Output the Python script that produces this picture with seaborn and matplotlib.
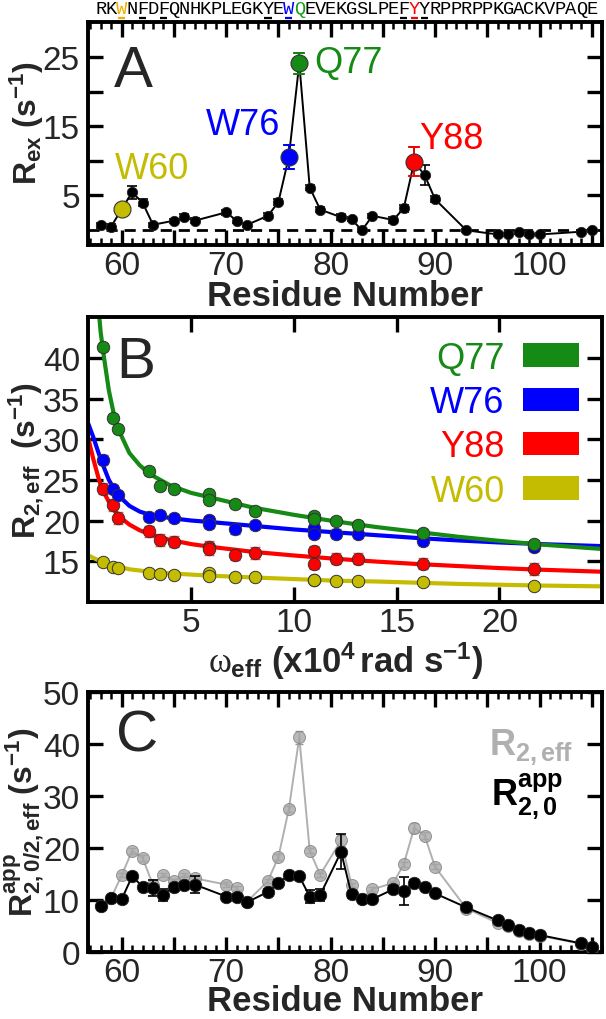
import numpy as np
import pandas as pd
import seaborn as sns
import matplotlib
matplotlib.use("Agg")
import matplotlib.pyplot as plt
import matplotlib.transforms as mtransforms
from matplotlib.ticker import MultipleLocator, FuncFormatter, FixedLocator
from matplotlib.patches import Patch

# ---------------- data ----------------
sequence = "RKWNFDFQNHKPLEGKYEWQEVEKGSLPEFYYRPPRPPKGACKVPAQE"
seq_start = 58
seq_colors = {60: '#f0b000', 76: '#0000ff', 77: '#13a013', 88: '#ff0000'}
underline_res = [60, 62, 64, 74, 76, 87, 88, 89]
underline_cols = ['#f0b000', 'black', 'black', 'black', '#0000ff', 'black', '#ff0000', 'black']

# Panel A: Rex per residue
res_A = [58, 59, 60, 61, 62, 63, 65, 66, 67, 70, 71, 72, 74, 75, 76, 77, 78, 79, 81, 82,
         83, 84, 86, 87, 88, 89, 90, 93, 96, 97, 98, 99, 100, 104, 105]
rex = [0.6, 0.45, 3.0, 5.4, 3.9, 0.7, 1.3, 1.8, 1.3, 2.5, 1.3, 0.7, 2.0, 4.0, 10.5, 24.1,
       6.1, 2.9, 1.8, 1.5, -0.1, 2.0, 1.4, 3.1, 9.8, 7.9, 4.4, -0.1, -0.7, -0.7, -0.4,
       -0.7, -0.7, -0.3, -0.1]
rex_err = [0.3, 0.3, 0.4, 0.9, 0.5, 0.3, 0.3, 0.4, 0.4, 0.4, 0.4, 0.3, 0.4, 0.5, 1.7, 1.5,
           0.4, 0.4, 0.4, 0.3, 0.3, 0.3, 0.4, 0.5, 2.1, 1.4, 0.4, 0.2, 0.2, 0.2, 0.2,
           0.2, 0.2, 0.2, 0.2]

hl_names = ['W60', 'W76', 'Q77', 'Y88']
hl_res = [60, 76, 77, 88]
hl_colors = ['#c4bc00', '#0000ff', '#158a15', '#ff0000']
hl_label_x = [62.9, 71.6, 78.4, 88.5]
hl_label_y = [8.9, 15.2, 24.2, 13.15]
hl_label_ha = ['center', 'center', 'left', 'left']

# Panel B: R2,eff vs omega_eff
omega = [0.7, 1.22, 1.46, 2.95, 3.5, 4.15, 5.85, 5.85, 7.15, 8.1, 11.0, 11.0, 12.05, 13.1, 16.3, 21.7]
r2_Q77 = [41.3, 32.65, 31.3, 26.1, 24.3, 23.9, 23.3, 22.5, 22.0, 21.2, 20.5, 20.2, 19.9, 19.4, 18.5, 17.1]
r2_W76 = [27.5, 23.9, 23.1, 20.4, 20.7, 20.3, 20.1, 19.6, 18.9, 19.5, 19.1, 18.3, 18.4, 18.4, 17.5, 16.8]
r2_Y88 = [23.9, 21.9, 20.3, 18.65, 17.6, 17.4, 16.8, 16.5, 15.8, 16.0, 16.2, 14.7, 15.3, 15.3, 14.7, 14.05]
r2_W60 = [14.9, 14.3, 14.2, 13.6, 13.4, 13.35, 13.6, 13.2, 13.1, 13.1, 12.7, 12.7, 12.6, 12.6, 12.4, 11.9]
err_Q77 = [0.5] * 16
err_W76 = [0.5] * 16
err_Y88 = [0.7] * 16
err_W60 = [0.3] * 16

omega_fit = [0, 0.25, 0.5, 0.6, 0.75, 1.0, 1.25, 1.5, 2.0, 2.5, 3.0, 4.0, 5.0, 6.0, 8.0,
             10.0, 12.0, 14.0, 16.0, 18.0, 20.0, 22.0, 25.0]
fit_Q77 = [np.nan, np.nan, 46.0, 43.2, 40.3, 36.0, 33.0, 31.0, 28.3, 26.8, 25.7, 24.3, 23.4, 22.8,
           21.6, 20.7, 19.9, 19.2, 18.6, 18.0, 17.5, 17.05, 16.5]
fit_W76 = [31.9, 30.2, 28.3, 27.6, 26.6, 25.0, 23.9, 23.0, 21.8, 21.1, 20.7, 20.3, 20.0, 19.8,
           19.35, 18.9, 18.55, 18.2, 17.85, 17.55, 17.3, 17.1, 16.85]
fit_Y88 = [30.1, 27.5, 25.2, 24.4, 23.5, 22.3, 21.3, 20.5, 19.5, 18.8, 18.3, 17.6, 17.1, 16.75,
           16.15, 15.7, 15.3, 14.95, 14.65, 14.4, 14.15, 13.95, 13.7]
fit_W60 = [15.7, 15.4, 15.1, 15.0, 14.85, 14.6, 14.45, 14.3, 14.0, 13.85, 13.7, 13.5, 13.35, 13.2,
           13.0, 12.8, 12.6, 12.5, 12.35, 12.2, 12.1, 12.0, 11.9]

# Panel C: R2,0app and R2,eff per residue
res_C = [58, 59, 60, 61, 62, 63, 64, 65, 66, 67, 70, 71, 72, 74, 75, 76, 77, 78, 79, 81, 82,
         83, 84, 86, 87, 88, 89, 90, 93, 96, 97, 98, 99, 100, 104, 105]
r20_app = [8.7, 10.3, 10.1, 14.5, 12.5, 12.2, 10.9, 12.5, 12.8, 12.9, 10.6, 10.6, 9.5, 11.5,
           13.2, 14.7, 14.5, 10.6, 10.9, 19.2, 11.0, 10.1, 10.1, 12.0, 11.7, 13.2, 12.5, 11.2,
           8.5, 6.0, 5.2, 4.1, 3.5, 3.2, 1.6, 0.9]
r20_err = [0.4, 0.4, 0.4, 0.5, 0.5, 1.5, 1.2, 0.5, 0.5, 1.7, 0.5, 0.5, 0.4, 0.5, 0.5, 0.7,
           0.5, 1.3, 1.2, 3.4, 0.6, 0.4, 0.4, 0.6, 2.7, 0.5, 0.5, 0.4, 0.4, 0.3, 0.3, 0.3,
           0.3, 0.3, 0.3, 0.3]
r2eff = [8.8, 10.4, 14.7, 19.4, 18.0, 12.8, 14.8, 13.6, 14.7, 14.1, 12.9, 12.2, 9.6, 13.6,
         18.2, 27.4, 41.2, 19.4, 14.8, 21.4, 12.8, 10.2, 12.0, 13.2, 16.8, 23.8, 22.3, 16.3,
         8.3, 5.5, 5.0, 4.0, 3.4, 3.1, 1.5, 0.8]
r2eff_err = [0.3, 0.3, 0.4, 0.6, 0.5, 0.4, 0.4, 0.4, 0.4, 0.4, 0.4, 0.4, 0.3, 0.4, 0.5, 0.6,
             1.2, 0.5, 0.4, 1.0, 0.4, 0.3, 0.4, 0.4, 0.5, 0.9, 0.7, 0.5, 0.3, 0.3, 0.3, 0.3,
             0.3, 0.3, 0.3, 0.3]

# ---------------- style ----------------
sns.set_theme(style="ticks")
plt.rcParams.update({
    'font.family': ['Liberation Sans', 'DejaVu Sans'],
    'mathtext.fontset': 'custom',
    'mathtext.rm': 'Liberation Sans',
    'mathtext.bf': 'Liberation Sans:bold',
    'mathtext.it': 'Liberation Serif',
    'axes.facecolor': 'white',
    'figure.facecolor': 'white',
    'axes.unicode_minus': False,
})

TICK_FS = 24
LABEL_FS = 25
YLABEL_FS = 23

fig = plt.figure(figsize=(6.06, 10.2), dpi=100)
axA = fig.add_axes([0.1457, 0.759, 0.848, 0.218])
axB = fig.add_axes([0.1457, 0.409, 0.848, 0.279])
axC = fig.add_axes([0.1457, 0.066, 0.848, 0.255])


def style(ax):
    for s in ax.spines.values():
        s.set_visible(True)
        s.set_linewidth(2.8)
        s.set_color('black')
    ax.tick_params(which='both', direction='in', top=True, right=True,
                   labelsize=TICK_FS, color='black', pad=6)
    ax.tick_params(axis='x', which='both', pad=4)
    ax.tick_params(which='major', length=11, width=2.4)
    ax.tick_params(which='minor', length=5, width=1.8)
    ax.grid(False)


def residue_axis(ax):
    ax.set_xlim(56.8, 106)
    ax.xaxis.set_major_locator(MultipleLocator(5))
    ax.xaxis.set_minor_locator(MultipleLocator(1))
    ax.xaxis.set_major_formatter(FuncFormatter(lambda v, p: f"{int(round(v))}" if round(v) % 10 == 0 else ""))


# ---------------- Panel A ----------------
style(axA)
residue_axis(axA)
axA.set_ylim(-2.2, 30)
axA.yaxis.set_major_locator(FixedLocator([5, 10, 15, 20, 25]))
axA.yaxis.set_major_formatter(FuncFormatter(lambda v, p: f"{int(v)}" if int(v) in (5, 15, 25) else ""))
axA.axhline(0, color='black', lw=2.0, ls=(0, (4, 2.5)), zorder=1)

dfA = pd.DataFrame({'res': res_A, 'rex': rex, 'err': rex_err})
sns.lineplot(data=dfA, x='res', y='rex', color='black', lw=1.4, ax=axA, sort=False,
             estimator=None, zorder=2)
axA.errorbar(dfA['res'], dfA['rex'], yerr=dfA['err'], fmt='none', ecolor='black',
             elinewidth=1.2, capsize=3.5, capthick=1.2, zorder=3)
dfA_plain = dfA[~dfA['res'].isin(hl_res)]
sns.scatterplot(data=dfA_plain, x='res', y='rex', color='black', s=55, edgecolor='#222222',
                linewidth=0.6, ax=axA, zorder=4, legend=False)
for name, r, c, lx, ly, ha in zip(hl_names, hl_res, hl_colors, hl_label_x, hl_label_y, hl_label_ha):
    row = dfA[dfA['res'] == r]
    axA.errorbar(row['res'], row['rex'], yerr=row['err'], fmt='none', ecolor=c,
                 elinewidth=1.3, capsize=4, capthick=1.3, zorder=5)
    sns.scatterplot(data=row, x='res', y='rex', color=c, s=150, edgecolor='#333333',
                    linewidth=0.8, ax=axA, zorder=6, legend=False)
    axA.text(lx, ly, name, color=c, fontsize=26, ha=ha, va='center', zorder=7)

axA.text(0.05, 0.716, 'A', transform=axA.transAxes, fontsize=42, ha='left', va='baseline')
axA.set_xlabel('Residue Number', fontsize=LABEL_FS, fontweight='bold', labelpad=-2)
axA.set_ylabel(r'$\mathbf{R_{ex}\ (s^{-1})}$', fontsize=YLABEL_FS)
axA.yaxis.set_label_coords(-0.083, 0.55)

# sequence above panel A
trans = mtransforms.blended_transform_factory(axA.transData, axA.transAxes)
for i, ch in enumerate(sequence):
    r = seq_start + i
    axA.text(r, 1.062, ch, transform=trans, ha='center', va='center', fontsize=13.5,
             family='Liberation Mono', color=seq_colors.get(r, 'black'), clip_on=False)
for r, c in zip(underline_res, underline_cols):
    axA.plot([r - 0.35, r + 0.35], [1.022, 1.022], transform=trans, color=c, lw=1.6,
             clip_on=False, solid_capstyle='butt')

# ---------------- Panel B ----------------
style(axB)
axB.set_xlim(0, 25)
axB.set_ylim(10, 45)
axB.xaxis.set_major_locator(FixedLocator([5, 10, 15, 20]))
axB.yaxis.set_major_locator(FixedLocator([15, 20, 25, 30, 35, 40]))
axB.xaxis.set_minor_locator(FixedLocator([]))

b_names = ['Q77', 'W76', 'Y88', 'W60']
b_colors = ['#158a15', '#0000ff', '#ff0000', '#c4bc00']
b_vals = [r2_Q77, r2_W76, r2_Y88, r2_W60]
b_errs = [err_Q77, err_W76, err_Y88, err_W60]
b_fits = [fit_Q77, fit_W76, fit_Y88, fit_W60]

for name, c, vals, errs, fit in zip(b_names[::-1], b_colors[::-1], b_vals[::-1], b_errs[::-1], b_fits[::-1]):
    dff = pd.DataFrame({'w': omega_fit, 'r': fit})
    sns.lineplot(data=dff, x='w', y='r', color=c, lw=3.0, ax=axB, sort=False,
                 estimator=None, zorder=2)
for name, c, vals, errs, fit in zip(b_names[::-1], b_colors[::-1], b_vals[::-1], b_errs[::-1], b_fits[::-1]):
    dfp = pd.DataFrame({'w': omega, 'r': vals, 'e': errs})
    axB.errorbar(dfp['w'], dfp['r'], yerr=dfp['e'], fmt='none', ecolor=c, alpha=0.7,
                 elinewidth=1.0, capsize=3.5, capthick=1.0, zorder=3)
    sns.scatterplot(data=dfp, x='w', y='r', color=c, s=80, edgecolor='#333333',
                    linewidth=0.7, ax=axB, zorder=4, legend=False)

handles = [Patch(facecolor=c, edgecolor='none') for c in b_colors]
axB.legend(handles, b_names, loc='upper right', markerfirst=False, frameon=False,
           fontsize=26, labelcolor=b_colors, handlelength=1.55, handleheight=0.62,
           labelspacing=0.26, handletextpad=0.5, borderaxespad=0.35, borderpad=0.3)
axB.text(0.054, 0.79, 'B', transform=axB.transAxes, fontsize=42, ha='left', va='baseline')
axB.set_xlabel(r'$\omega_{\mathbf{eff}}$ $\mathbf{(x10^4\,rad\ s^{-1})}$', fontsize=LABEL_FS, labelpad=1)
axB.set_ylabel(r'$\mathbf{R_{2,eff}\ \ (s^{-1})}$', fontsize=YLABEL_FS)
axB.yaxis.set_label_coords(-0.083, 0.5)

# ---------------- Panel C ----------------
style(axC)
residue_axis(axC)
axC.set_ylim(0, 50)
axC.yaxis.set_major_locator(MultipleLocator(10))

dfC = pd.DataFrame({'res': res_C, 'r20': r20_app, 'r20e': r20_err, 'r2': r2eff, 'r2e': r2eff_err})
sns.lineplot(data=dfC, x='res', y='r2', color='#b0b0b0', lw=1.4, ax=axC, sort=False,
             estimator=None, zorder=2)
axC.errorbar(dfC['res'], dfC['r2'], yerr=dfC['r2e'], fmt='none', ecolor='#999999',
             elinewidth=1.0, capsize=3, capthick=1.0, zorder=3)
sns.scatterplot(data=dfC, x='res', y='r2', color='#a8a8a8', s=75, edgecolor='#808080',
                linewidth=0.7, alpha=0.8, ax=axC, zorder=4, legend=False)
sns.lineplot(data=dfC, x='res', y='r20', color='black', lw=1.4, ax=axC, sort=False,
             estimator=None, zorder=5)
axC.errorbar(dfC['res'], dfC['r20'], yerr=dfC['r20e'], fmt='none', ecolor='black',
             elinewidth=1.2, capsize=3.5, capthick=1.2, zorder=6)
sns.scatterplot(data=dfC, x='res', y='r20', color='black', s=80, edgecolor='#222222',
                linewidth=0.6, ax=axC, zorder=7, legend=False)

axC.text(0.943, 0.79, r'$\mathbf{R_{2,eff}}$', transform=axC.transAxes, color='#b0b0b0',
         fontsize=26, ha='right', va='center')
axC.text(0.925, 0.60, r'$\mathbf{R^{app}_{2,0}}$', transform=axC.transAxes, color='black',
         fontsize=26, ha='right', va='center')
axC.text(0.054, 0.774, 'C', transform=axC.transAxes, fontsize=42, ha='left', va='baseline')
axC.set_xlabel('Residue Number', fontsize=LABEL_FS, fontweight='bold', labelpad=-3)
axC.set_ylabel(r'$\mathbf{R^{app}_{2,0/2,eff}\ (s^{-1})}$', fontsize=YLABEL_FS)
axC.yaxis.set_label_coords(-0.08, 0.5)

fig.savefig('out.png', dpi=100)
